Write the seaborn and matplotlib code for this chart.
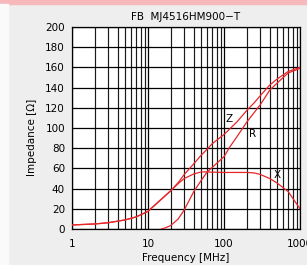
import seaborn as sns
import matplotlib.pyplot as plt
import matplotlib.ticker as mticker
from matplotlib.patches import Rectangle
import pandas as pd

# values
freq_zx = [1, 2, 3, 5, 7, 10, 15, 20, 25, 30, 40, 50, 60, 70, 100, 150, 200, 250, 300, 400, 500, 700, 1000]
z_vals = [4, 5, 6.2, 9, 12, 17.5, 29.5, 38, 46, 54, 64.5, 73, 79, 84.5, 93.5, 106.5, 117.5, 125, 132, 142.5, 148.5, 156, 160]
x_vals = [4, 5, 6.2, 9, 12, 17.5, 29.5, 38, 45, 50, 54.5, 56.5, 56.5, 56.3, 56, 56, 56, 55.5, 54, 50, 45.5, 37, 20]
freq_r = [15, 17, 20, 25, 30, 40, 50, 60, 70, 100, 120, 150, 200, 300, 400, 500, 700, 1000]
r_vals = [0, 1.2, 3.5, 10, 19, 37, 48, 56.5, 61, 71.6, 81.5, 92, 106, 123, 137.5, 144.5, 154.5, 159]

label_pos = {"Z": (116, 109), "R": (239, 94), "X": (505, 53.5)}
x_ticks = [1, 10, 100, 1000]
y_ticks = list(range(0, 201, 20))

red = "#e8262a"
bg = "#eeeeee"

df = pd.concat([
    pd.DataFrame({"Frequency": freq_zx, "Impedance": z_vals, "curve": "Z"}),
    pd.DataFrame({"Frequency": freq_zx, "Impedance": x_vals, "curve": "X"}),
    pd.DataFrame({"Frequency": freq_r, "Impedance": r_vals, "curve": "R"}),
])

fig = plt.figure(figsize=(3.07, 2.65), dpi=100, facecolor=bg)
ax = fig.add_axes([72 / 307, 36 / 265, 228 / 307, 202 / 265])
ax.set_facecolor("white")

# band and strip framing the panel
fig.patches.append(Rectangle((0, 1 - 4 / 265), 1, 4 / 265, transform=fig.transFigure,
                             color="#f7b8bb", zorder=0))
fig.patches.append(Rectangle((0, 0), 8 / 307, 1 - 4 / 265, transform=fig.transFigure,
                             color="#fafafa", zorder=0))

sns.lineplot(data=df, x="Frequency", y="Impedance", hue="curve", units="curve",
             estimator=None, palette={"Z": red, "X": red, "R": red},
             linewidth=0.9, legend=False, ax=ax, zorder=3)

ax.set_xscale("log")
ax.set_xlim(1, 1000)
ax.set_ylim(0, 200)
ax.set_xticks(x_ticks)
ax.set_xticklabels([str(t) for t in x_ticks])
ax.xaxis.set_minor_locator(mticker.LogLocator(base=10, subs=range(2, 10)))
ax.xaxis.set_minor_formatter(mticker.NullFormatter())
ax.set_yticks(y_ticks)

ax.grid(True, which="major", color="black", linewidth=0.9)
ax.grid(True, which="minor", axis="x", color="#1a1a1a", linewidth=0.85)
ax.tick_params(which="both", length=0, labelsize=7.5, colors="black")
ax.tick_params(axis="y", pad=5)
ax.tick_params(axis="x", pad=7)
for s in ax.spines.values():
    s.set_color("black")
    s.set_linewidth(0.9)

ax.set_xlabel("Frequency [MHz]", fontsize=7.5, labelpad=3)
ax.set_ylabel("")
fig.text(32 / 307, 1 - 137 / 265, "Impedance [Ω]", rotation=90, fontsize=7.5,
         ha="center", va="center")
fig.text(186 / 307, 1 - 16.5 / 265, "FB  MJ4516HM900−T", fontsize=7.5,
         ha="center", va="center")

for name, (fx, fy) in label_pos.items():
    ax.text(fx, fy, name, fontsize=7.5, ha="center", va="center", zorder=4)

fig.savefig("out.png", dpi=100, facecolor=bg)
